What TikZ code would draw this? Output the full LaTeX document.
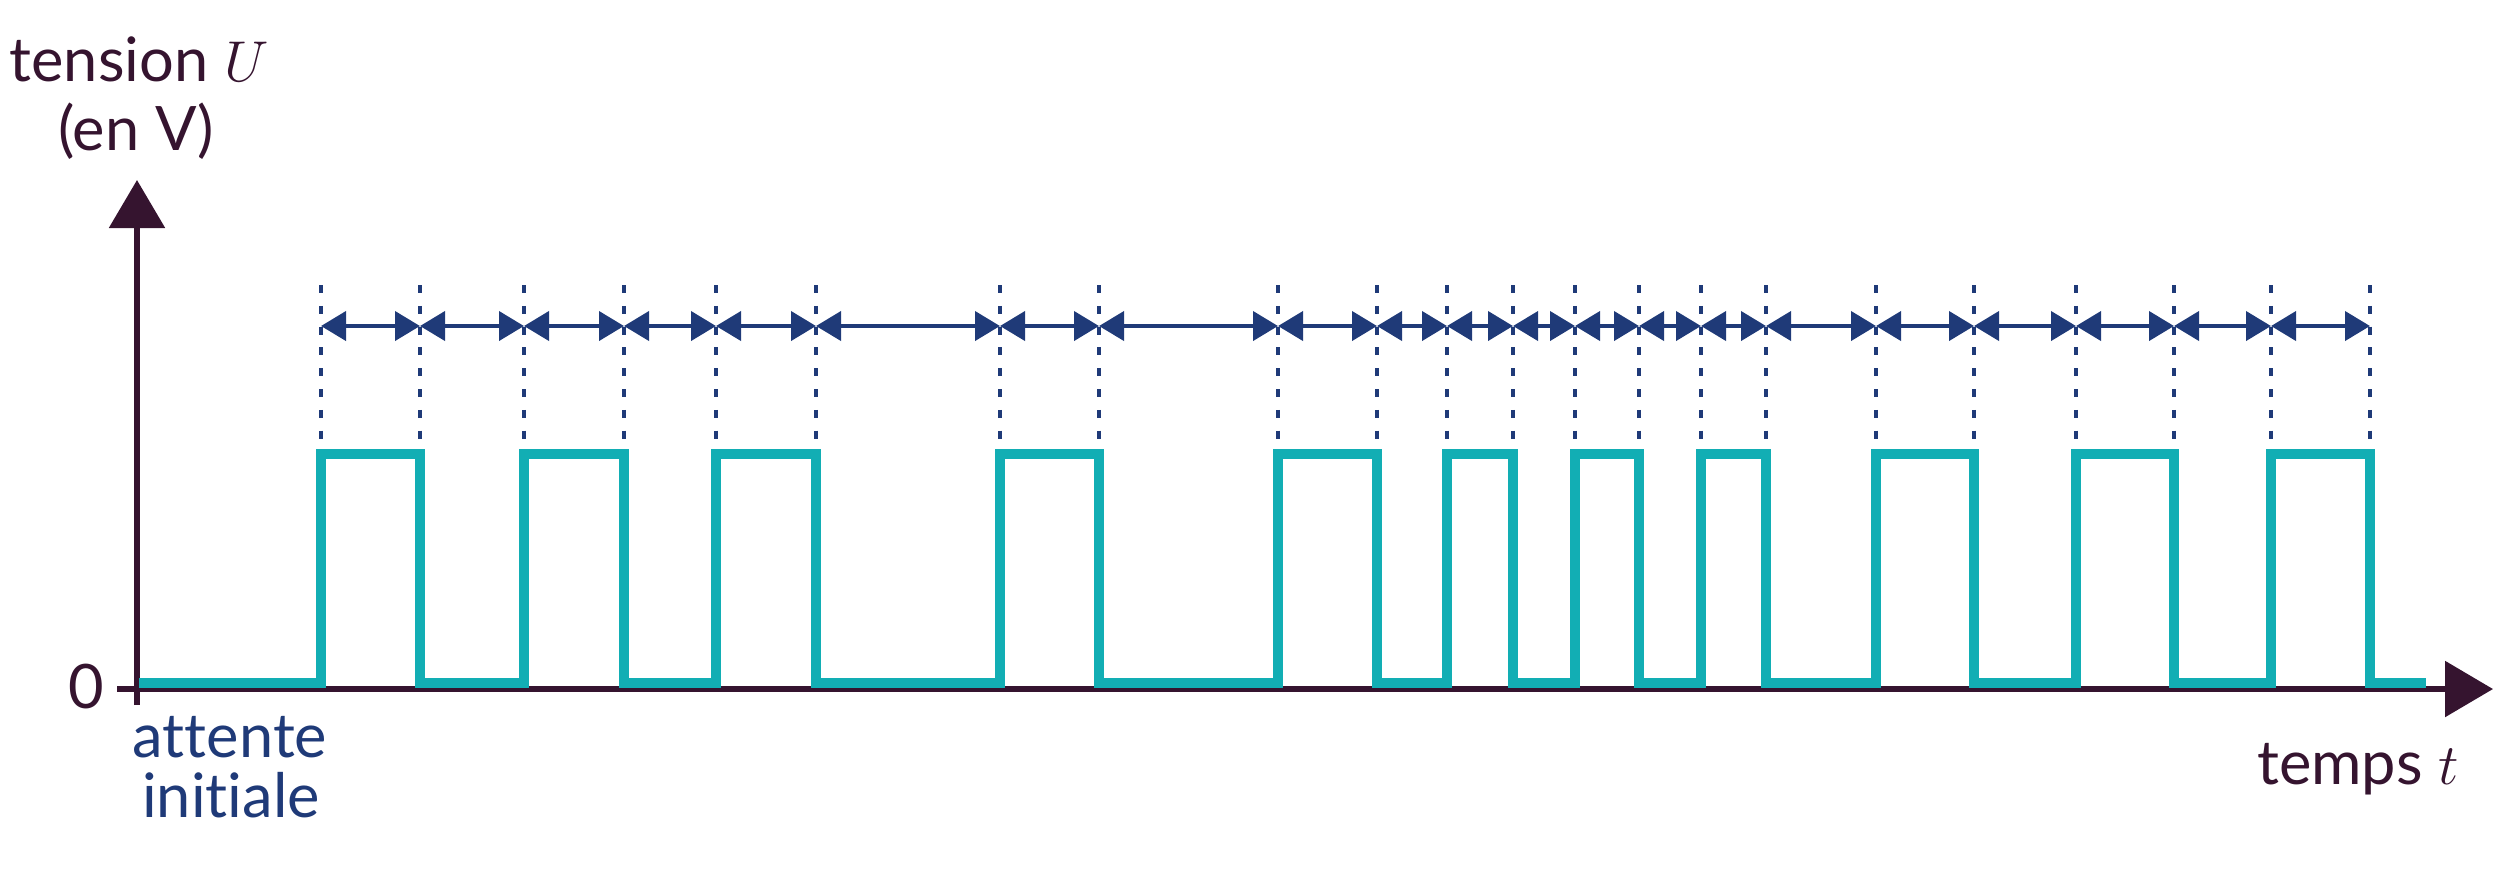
\documentclass[tikz,border=0pt]{standalone}
\usepackage{fontspec}
\setmainfont{Lato}[Ligatures={NoCommon,NoContextual}]
\usetikzlibrary{arrows.meta}
\definecolor{axiscol}{HTML}{35142F}
\definecolor{sigcol}{HTML}{12AEB4}
\definecolor{dimcol}{HTML}{1F3A78}
\begin{document}
\begin{tikzpicture}[x=0.3pt,y=-0.3pt,
  axisline/.style={draw=axiscol,line width=1.7pt,-{Triangle[length=14.4pt,width=16.5pt]}},
  signal/.style={draw=sigcol,line width=3pt,line join=miter},
  guide/.style={draw=dimcol,line width=1.2pt,dash pattern=on 2.4pt off 3.84pt},
  dimarrow/.style={draw=dimcol,line width=1.2pt,{Triangle[length=7.5pt,width=8.7pt]}-{Triangle[length=7.5pt,width=8.7pt]}},
  lbl/.style={inner sep=0pt,anchor=base,text=axiscol,font=\fontsize{18.4}{22}\selectfont},
  bluelbl/.style={lbl,text=dimcol}]
\useasboundingbox (0,0) rectangle (2501,871);
% axes
\coordinate (ybot) at (137,705);
\coordinate (ytop) at (137,180);
\coordinate (xleft) at (117,689);
\coordinate (xright) at (2493,689);
\draw[axisline] (ybot) -- (ytop);
\draw[axisline] (xleft) -- (xright);
% signal
\draw[signal] (139,683) -- (321,683) -- (321,454) -- (420,454) -- (420,683)
  -- (524,683) -- (524,454) -- (624,454) -- (624,683)
  -- (716,683) -- (716,454) -- (816,454) -- (816,683)
  -- (1000,683) -- (1000,454) -- (1099,454) -- (1099,683)
  -- (1278,683) -- (1278,454) -- (1377,454) -- (1377,683)
  -- (1447,683) -- (1447,454) -- (1513,454) -- (1513,683)
  -- (1575,683) -- (1575,454) -- (1639,454) -- (1639,683)
  -- (1701,683) -- (1701,454) -- (1766,454) -- (1766,683)
  -- (1876,683) -- (1876,454) -- (1974,454) -- (1974,683)
  -- (2076,683) -- (2076,454) -- (2174,454) -- (2174,683)
  -- (2271,683) -- (2271,454) -- (2370,454) -- (2370,683)
  -- (2426,683);
% guides and interval arrows
\foreach \x [count=\i] in {321,420,524,624,716,816,1000,1099,1278,1377,1447,1513,1575,1639,1701,1766,1876,1974,2076,2174,2271,2370}{
  \coordinate (gt\i) at (\x,285);
  \coordinate (gb\i) at (\x,439);
  \coordinate (gm\i) at (\x,326);
  \draw[guide] (gt\i) -- (gb\i);
}
\foreach \i [evaluate=\i as \j using int(\i+1)] in {1,...,21}{
  \draw[dimarrow] (gm\i) -- (gm\j);
}
% labels
\node[lbl] (ulabel) at (139,81) {tension $U$};
\node[lbl] (unit) at (136,150) {(en V)};
\node[lbl] (zero) at (86,708) {0};
\node[bluelbl] (wait1) at (230,757) {attente};
\node[bluelbl] (wait2) at (231,817) {initiale};
\node[lbl] (tlabel) at (2358,784) {temps $t$};
\end{tikzpicture}
\end{document}
